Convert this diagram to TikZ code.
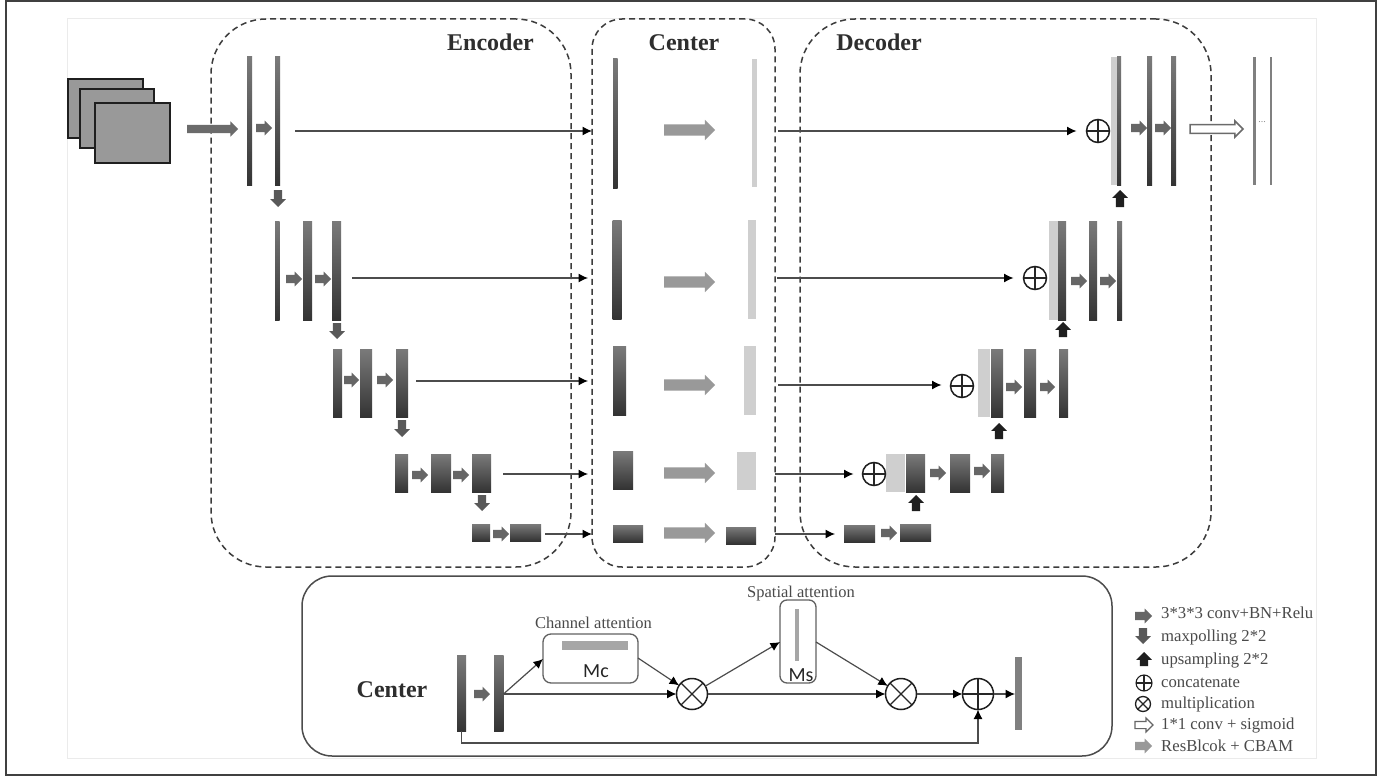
\documentclass[tikz,border=0pt]{standalone}
\usepackage{fontspec}
\setmainfont{Liberation Serif}
\newfontfamily\califont{Carlito}
\usetikzlibrary{arrows.meta,shapes.arrows}
\definecolor{lineC}{HTML}{4C4C4C}
\definecolor{boxC}{HTML}{3C3C3C}
\definecolor{txtC}{HTML}{4A4A4A}
\definecolor{lightC}{HTML}{CFCFCF}
\tikzset{
  x=1pt,y=-1pt,
  barbase/.style={rectangle,inner sep=0pt,outer sep=0pt,anchor=north west},
  darkbar/.style={barbase,top color=black!52,bottom color=black!80,draw=none},
  lightbar/.style={barbase,fill=lightC},
  thinbar/.style={barbase,fill=black!50},
  arrowbase/.style={single arrow,single arrow head indent=0pt,minimum width=0pt,outer sep=0pt,anchor=tail},
  conv/.style={arrowbase,fill=black!60,inner sep=4pt,single arrow head extend=3.2pt},
  convin/.style={arrowbase,fill=black!58,inner sep=4pt,single arrow head extend=3.5pt},
  pool/.style={arrowbase,fill=black!65,inner sep=4pt,single arrow head extend=3.6pt,shape border rotate=270},
  upsample/.style={arrowbase,fill=black!88,inner sep=4pt,single arrow head extend=3.6pt,shape border rotate=90},
  resblock/.style={arrowbase,fill=black!40,inner sep=5.5pt,single arrow head extend=4.5pt},
  resblocksmall/.style={arrowbase,fill=black!40,inner sep=4pt,single arrow head extend=3.2pt},
  hollow/.style={arrowbase,draw=black!58,line width=1.5pt,fill=white,inner sep=3.6pt,single arrow head extend=3.8pt},
  hollowsmall/.style={arrowbase,draw=black!60,line width=1.2pt,fill=white,inner sep=3pt,single arrow head extend=3.4pt},
  connline/.style={line width=1.2pt,-{Latex[length=9.5pt,width=9pt,color=black]},draw=lineC},
  dashbox/.style={rectangle,draw=boxC,line width=1.5pt,dash pattern=on 6pt off 4pt,inner sep=0pt,outer sep=0pt,anchor=north west},
  panelbox/.style={rectangle,draw=lineC,line width=1.5pt,inner sep=0pt,outer sep=0pt,anchor=north west,rounded corners=30pt},
  attbox/.style={rectangle,draw=black!62,line width=1.3pt,inner sep=0pt,outer sep=0pt,anchor=north west},
  imgbox/.style={rectangle,draw=black!88,line width=1.5pt,fill=black!40,inner sep=0pt,outer sep=0pt,anchor=north west},
  title/.style={font=\fontsize{24}{24}\selectfont\bfseries,text=black!82,inner sep=0pt,anchor=base},
  small/.style={font=\fontsize{16.5}{17}\selectfont,text=txtC,inner sep=0pt,anchor=base},
  legend/.style={font=\fontsize{16.7}{17}\selectfont,text=txtC,inner sep=0pt,anchor=base west},
  calib/.style={font=\califont\fontsize{20}{20}\selectfont,text=black!85,inner sep=0pt,anchor=base},
  oplus/.style={circle,draw=black!88,line width=1.5pt,fill=white,inner sep=0pt,outer sep=0pt,minimum size=23pt,
    path picture={\draw[line width=1.2pt,black!85] (path picture bounding box.north)--(path picture bounding box.south) (path picture bounding box.west)--(path picture bounding box.east);}},
  otimes/.style={circle,draw=black!88,line width=1.5pt,fill=white,inner sep=0pt,outer sep=0pt,minimum size=31pt,
    path picture={\draw[line width=1.2pt,black!85] (path picture bounding box.north west)--(path picture bounding box.south east) (path picture bounding box.south west)--(path picture bounding box.north east);}},
}
% name, style, x0, y0, x1, y1
\newcommand\blk[6]{\node[#2,minimum width={(#5-#3)*1pt},minimum height={(#6-#4)*1pt}] (#1) at (#3,#4) {};}
% name, style, tail x, tail y, length
\newcommand\arw[5]{\node[#2,minimum height={#5*1pt}] (#1) at (#3,#4) {};}
\begin{document}
\begin{tikzpicture}
\useasboundingbox (0,0) rectangle (1392,776);
\fill[white] (0,0) rectangle (1392,776);
\blk{outerframe}{barbase,draw=black!75,line width=1.6pt}{6}{1}{1376}{775}
\blk{innerframe}{barbase,draw=black!8,line width=0.8pt}{67}{18}{1316}{758}

% row reference coordinates
\coordinate (rowa) at (0,131);
\coordinate (rowb) at (0,278);
\coordinate (rowc) at (0,381);
\coordinate (rowd) at (0,474);
\coordinate (rowe) at (0,534);
\coordinate (rowcd) at (0,385);
\coordinate (rowp) at (0,694);
\coordinate (rowq) at (0,743);

% dashed groups
\blk{encbox}{dashbox,rounded corners=55pt}{211}{19}{571}{567}
\blk{cenbox}{dashbox,rounded corners=30pt}{592}{19}{775}{567}
\blk{decbox}{dashbox,rounded corners=55pt}{800}{19}{1211}{567}
\node[title] (enclab) at (490.5,51) {Encoder};
\node[title] (cenlab) at (684,51) {Center};
\node[title] (declab) at (879,51) {Decoder};

% input
\blk{imga}{imgbox}{68}{79}{143}{138}
\blk{imgb}{imgbox}{80}{89}{154}{148}
\blk{imgc}{imgbox}{95}{103}{170}{163}
\arw{ain}{convin}{187}{129}{51}

% encoder
\blk{ea1}{darkbar}{247}{57}{252}{185}
\blk{ea2}{darkbar}{275}{57}{280}{185}
\arw{eaa}{conv}{256}{128}{16}
\arw{eap}{pool}{278}{190}{17}
\blk{eb1}{darkbar}{275}{221}{279.5}{320}
\blk{eb2}{darkbar}{303}{221}{312}{320}
\blk{eb3}{darkbar}{332}{221}{341}{320}
\arw{eba}{conv}{286}{279}{16}
\arw{ebb}{conv}{315}{279}{16}
\arw{ebp}{pool}{337}{323}{16}
\blk{ec1}{darkbar}{333}{349}{342}{417}
\blk{ec2}{darkbar}{360}{349}{372}{417}
\blk{ec3}{darkbar}{396}{349}{408}{417}
\arw{eca}{conv}{344}{380}{15}
\arw{ecb}{conv}{377}{380}{16}
\arw{ecp}{pool}{402}{420}{17}
\blk{ed1}{darkbar}{395}{454}{408}{492}
\blk{ed2}{darkbar}{431}{454}{451}{492}
\blk{ed3}{darkbar}{472}{454}{491}{492}
\arw{eda}{conv}{412}{475}{16}
\arw{edb}{conv}{453}{475}{16}
\arw{edp}{pool}{482}{495}{16}
\blk{ee1}{darkbar}{472}{524}{490}{541}
\blk{ee2}{darkbar}{510}{524}{541}{541}
\arw{eea}{conv}{493}{534}{16}

% center
\blk{ca1}{darkbar}{613}{58.5}{617.5}{188}
\blk{ca2}{lightbar}{752}{59}{756.5}{187}
\arw{caa}{resblock}{664}{130}{51}
\blk{cb1}{darkbar}{612.5}{220}{621.5}{319}
\blk{cb2}{lightbar}{748}{220}{756}{319}
\arw{cba}{resblock}{664}{282}{51}
\blk{cc1}{darkbar}{613}{346}{626}{415}
\blk{cc2}{lightbar}{744}{346}{756}{415}
\arw{cca}{resblock}{664}{385}{51}
\blk{cd1}{darkbar}{613}{451}{633}{489}
\blk{cd2}{lightbar}{737}{452}{756}{490}
\arw{cda}{resblock}{664}{473}{51}
\blk{ce1}{darkbar}{613}{525}{643}{542}
\blk{ce2}{darkbar}{726}{527}{756}{544}
\arw{cea}{resblock}{664}{533}{51}

% decoder
\blk{dal}{lightbar}{1111}{57}{1117}{185}
\blk{da1}{darkbar}{1117}{57}{1121}{185}
\blk{da2}{darkbar}{1147}{57}{1152}{185}
\blk{da3}{darkbar}{1171}{57}{1176}{185}
\node[oplus] (dap) at (1098,131) {};
\arw{daa}{conv}{1131}{128}{16}
\arw{dab}{conv}{1155}{128}{16}
\arw{dau}{upsample}{1120}{207}{17}
\blk{dbl}{lightbar}{1049}{221}{1058}{320}
\blk{db1}{darkbar}{1058}{221}{1066}{320}
\blk{db2}{darkbar}{1089}{221}{1097}{320}
\blk{db3}{darkbar}{1117}{221}{1122}{320}
\node[oplus] (dbp) at (1035,278) {};
\arw{dba}{conv}{1071}{281}{16}
\arw{dbb}{conv}{1100}{281}{16}
\arw{dbu}{upsample}{1063}{337}{15}
\blk{dcl}{lightbar}{978}{349}{990}{417}
\blk{dc1}{darkbar}{991}{349}{1003}{417}
\blk{dc2}{darkbar}{1024}{349}{1036}{417}
\blk{dc3}{darkbar}{1059}{349}{1068}{417}
\node[oplus] (dcp) at (962,386) {};
\arw{dca}{conv}{1006}{387}{16}
\arw{dcb}{conv}{1040}{387}{15}
\arw{dcu}{upsample}{999}{439}{16}
\blk{ddl}{lightbar}{886}{454}{905}{492}
\blk{dd1}{darkbar}{906}{454}{925}{492}
\blk{dd2}{darkbar}{950}{454}{970}{492}
\blk{dd3}{darkbar}{991}{454}{1004}{492}
\node[oplus] (ddp) at (874,474) {};
\arw{dda}{conv}{930}{473}{16}
\arw{ddb}{conv}{974}{471}{16}
\arw{ddu}{upsample}{916}{511}{16}
\blk{de1}{darkbar}{844}{525}{875}{542}
\blk{de2}{darkbar}{900}{524}{931}{541}
\arw{dea}{conv}{881}{533}{16}

% output
\arw{aout}{hollow}{1190}{129}{53}
\blk{oa}{thinbar}{1253}{57}{1256}{185}
\blk{ob}{thinbar}{1269.5}{57}{1272}{185}
\node[font=\fontsize{10}{10}\selectfont,text=black!45,inner sep=0pt] (odots) at (1262,122) {...};

% skip connections
\draw[connline,shorten <=15pt,shorten >=21pt] (ea2.east |- rowa) -- (ca1.west |- rowa);
\draw[connline,shorten <=11pt,shorten >=24.5pt] (eb3.east |- rowb) -- (cb1.west |- rowb);
\draw[connline,shorten <=8pt,shorten >=25pt] (ec3.east |- rowc) -- (cc1.west |- rowc);
\draw[connline,shorten <=12pt,shorten >=25pt] (ed3.east |- rowd) -- (cd1.west |- rowd);
\draw[connline,shorten <=4pt,shorten >=21pt] (ee2.east |- rowe) -- (ce1.west |- rowe);
\draw[connline,shorten <=21.5pt,shorten >=10pt] (ca2.east |- rowa) -- (dap.west);
\draw[connline,shorten <=21pt,shorten >=10pt] (cb2.east |- rowb) -- (dbp.west);
\draw[connline,shorten <=22pt,shorten >=9pt] (cc2.east |- rowcd) -- (dcp.west |- rowcd);
\draw[connline,shorten <=19pt,shorten >=9pt] (cd2.east |- rowd) -- (ddp.west);
\draw[connline,shorten <=19pt,shorten >=9pt] (ce2.east |- rowe) -- (de1.west |- rowe);

% bottom panel
\blk{panel}{panelbox}{302}{576}{1112}{756}
\node[title] (pantitle) at (392,697) {Center};
\blk{pb1}{darkbar}{457}{655}{466}{731}
\blk{pb2}{darkbar}{494}{655}{503.5}{731}
\arw{pba}{conv}{474}{694}{16}
\blk{mc}{attbox,rounded corners=8pt}{543}{634}{638}{683}
\blk{mcb}{barbase,fill=black!35}{562}{641}{628}{650}
\node[calib] (mct) at (596,677) {Mc};
\node[small] (mclab) at (593.5,628) {Channel attention};
\blk{ms}{attbox,rounded corners=7pt}{780}{600}{816}{683}
\blk{msb}{barbase,fill=black!35}{795}{609}{799}{661}
\node[calib] (mst) at (801,681) {Ms};
\node[small] (mslab) at (801,597) {Spatial attention};
\node[otimes] (ot1) at (692,694) {};
\node[otimes] (ot2) at (901,694) {};
\node[oplus,minimum size=31pt] (pp) at (978,694) {};
\blk{pend}{barbase,fill=black!50}{1015}{657}{1022}{730}

\coordinate (mcin) at (543,659);
\coordinate (mcout) at (638,658);
\coordinate (msin) at (780,642);
\coordinate (msout) at (816,642);
\draw[connline] (pb2.east |- rowp) -- (mcin);
\draw[connline] (pb2.east |- rowp) -- (ot1.west);
\draw[connline] (mcout) -- (ot1);
\draw[connline] (ot1) -- (msin);
\draw[connline] (msout) -- (ot2);
\draw[connline] (ot1.east) -- (ot2.west);
\draw[connline] (ot2.east) -- (pp.west);
\draw[connline] (pp.east) -- (pend.west |- rowp);
\draw[connline] (pb1.south) -- (pb1.south |- rowq) -| (pp.south);

% legend
\arw{l1a}{conv}{1135}{616}{17}
\node[legend] (l1) at (1161,618) {3*3*3 conv+BN+Relu};
\arw{l2a}{pool}{1143}{628}{16}
\node[legend] (l2) at (1161,641) {maxpolling 2*2};
\arw{l3a}{upsample}{1144}{666}{14}
\node[legend] (l3) at (1161,664) {upsampling 2*2};
\node[oplus,minimum size=16pt,line width=1.1pt] (l4a) at (1144,683) {};
\node[legend] (l4) at (1161,687) {concatenate};
\node[otimes,minimum size=15pt,line width=1.3pt] (l5a) at (1143,704) {};
\node[legend] (l5) at (1161,708) {multiplication};
\arw{l6a}{hollowsmall}{1135}{725}{18}
\node[legend] (l6) at (1161,729) {1*1 conv + sigmoid};
\arw{l7a}{resblocksmall}{1135}{746}{17}
\node[legend] (l7) at (1161,751) {ResBlcok + CBAM};
\end{tikzpicture}
\end{document}
